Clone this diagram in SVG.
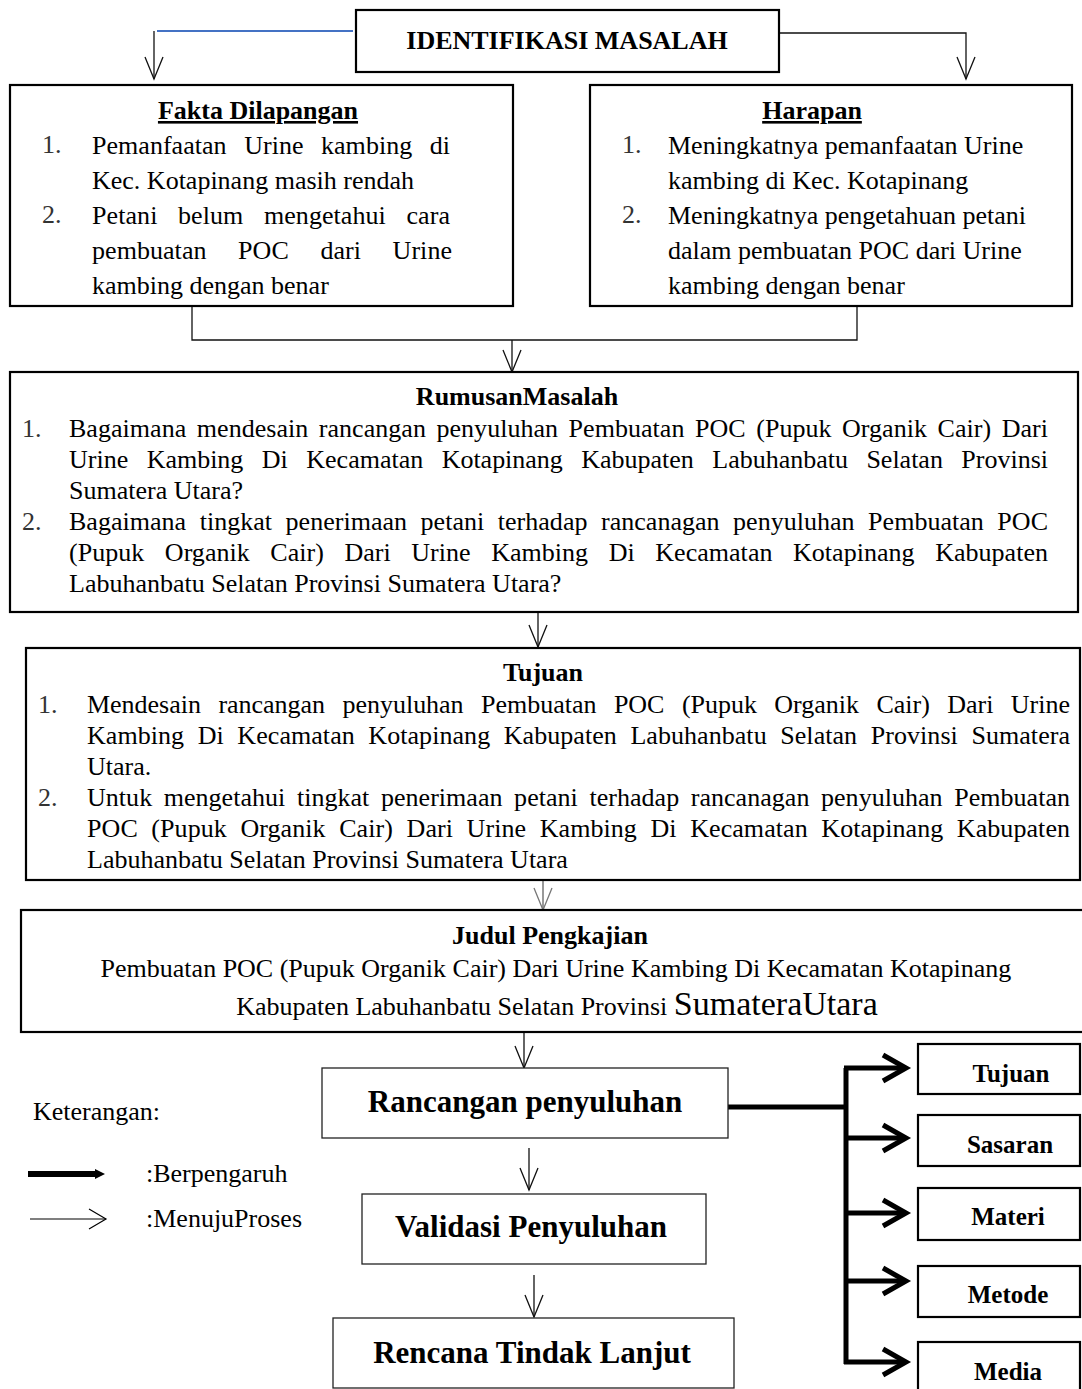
<svg xmlns="http://www.w3.org/2000/svg" width="1082" height="1389" viewBox="0 0 1082 1389">
<style>
  text { font-family: "Liberation Serif", "Times New Roman", serif; fill: #000; }
  .t { font-size: 26px; }
  .b { font-size: 26px; font-weight: bold; }
  .big { font-size: 31px; font-weight: bold; }
  .sm { font-size: 25px; font-weight: bold; }
  .num { font-size: 26px; fill: #333; }
  .box { fill: #fff; stroke: #000; stroke-width: 2.2; }
  .thin { fill: #fff; stroke: #222; stroke-width: 1.3; }
  .ln { fill: none; stroke: #111; stroke-width: 1.3; }
  .thick { fill: none; stroke: #000; stroke-width: 5; }
</style>
<defs>
  <marker id="v" markerUnits="userSpaceOnUse" markerWidth="26" markerHeight="22" refX="22" refY="9" orient="auto" overflow="visible">
    <path d="M0,0 L22,9 L0,18" fill="none" stroke="#111" stroke-width="1.3"/>
  </marker>
  <marker id="vg" markerUnits="userSpaceOnUse" markerWidth="26" markerHeight="22" refX="22" refY="9" orient="auto" overflow="visible">
    <path d="M0,0 L22,9 L0,18" fill="none" stroke="#777" stroke-width="1.3"/>
  </marker>
  <marker id="tv" markerUnits="userSpaceOnUse" markerWidth="30" markerHeight="30" refX="23" refY="13" orient="auto" overflow="visible">
    <path d="M0,0 L23,13 L0,26" fill="none" stroke="#000" stroke-width="5"/>
  </marker>
</defs>

<g id="connectors">
  <line x1="157" y1="31" x2="353" y2="31" stroke="#4472C4" stroke-width="2"/>
  <line class="ln" x1="154" y1="31" x2="154" y2="79" marker-end="url(#v)"/>
  <polyline class="ln" points="779,33 966,33 966,79" marker-end="url(#v)"/>
  <polyline class="ln" points="192,307 192,340 857,340 857,307"/>
  <line class="ln" x1="512" y1="340" x2="512" y2="372" marker-end="url(#v)"/>
  <line class="ln" x1="538" y1="613" x2="538" y2="647" marker-end="url(#v)"/>
  <line x1="543" y1="866" x2="543" y2="910" stroke="#777" stroke-width="1.5" marker-end="url(#vg)"/>
  <line class="ln" x1="524" y1="1033" x2="524" y2="1068" marker-end="url(#v)"/>
  <line class="ln" x1="529" y1="1148" x2="529" y2="1190" marker-end="url(#v)"/>
  <line class="ln" x1="534" y1="1275" x2="534" y2="1317" marker-end="url(#v)"/>
  <line class="thick" x1="728" y1="1107" x2="848" y2="1107"/>
  <line class="thick" x1="846" y1="1068" x2="846" y2="1364"/>
  <line class="thick" x1="844" y1="1068" x2="906" y2="1068" marker-end="url(#tv)"/>
  <line class="thick" x1="846" y1="1138" x2="906" y2="1138" marker-end="url(#tv)"/>
  <line class="thick" x1="846" y1="1213" x2="906" y2="1213" marker-end="url(#tv)"/>
  <line class="thick" x1="846" y1="1281" x2="906" y2="1281" marker-end="url(#tv)"/>
  <line class="thick" x1="844" y1="1362" x2="906" y2="1362" marker-end="url(#tv)"/>
</g>

<g id="identifikasi">
  <rect class="box" x="356" y="10" width="423" height="62"/>
  <text class="b" x="567" y="49" text-anchor="middle">IDENTIFIKASI MASALAH</text>
</g>

<g id="fakta">
  <rect class="box" x="10" y="85" width="503" height="221"/>
  <text class="b" x="258" y="119" text-anchor="middle" text-decoration="underline">Fakta Dilapangan</text>
  <text class="num" x="42" y="153">1.</text>
  <text class="t" x="92" y="154" word-spacing="11" textLength="358" lengthAdjust="spacing">Pemanfaatan Urine kambing di</text>
  <text class="t" x="92" y="189">Kec. Kotapinang masih rendah</text>
  <text class="num" x="42" y="223">2.</text>
  <text class="t" x="92" y="224" word-spacing="14" textLength="358" lengthAdjust="spacing">Petani belum mengetahui cara</text>
  <text class="t" x="92" y="259" word-spacing="25" textLength="360" lengthAdjust="spacing">pembuatan POC dari Urine</text>
  <text class="t" x="92" y="294">kambing dengan benar</text>
</g>

<g id="harapan">
  <rect class="box" x="590" y="85" width="482" height="221"/>
  <text class="b" x="812" y="119" text-anchor="middle" text-decoration="underline">Harapan</text>
  <text class="num" x="622" y="153">1.</text>
  <text class="t" x="668" y="154">Meningkatnya pemanfaatan Urine</text>
  <text class="t" x="668" y="189">kambing di Kec. Kotapinang</text>
  <text class="num" x="622" y="223">2.</text>
  <text class="t" x="668" y="224">Meningkatnya pengetahuan petani</text>
  <text class="t" x="668" y="259">dalam pembuatan POC dari Urine</text>
  <text class="t" x="668" y="294">kambing dengan benar</text>
</g>

<g id="rumusan">
  <rect class="box" x="10" y="372" width="1068" height="240"/>
  <text class="b" x="517" y="405" text-anchor="middle">RumusanMasalah</text>
  <text class="num" x="22" y="437">1.</text>
  <text class="t" x="69" y="437" word-spacing="4" textLength="979" lengthAdjust="spacing">Bagaimana mendesain rancangan penyuluhan Pembuatan POC (Pupuk Organik Cair) Dari</text>
  <text class="t" x="69" y="468" word-spacing="12" textLength="979" lengthAdjust="spacing">Urine Kambing Di Kecamatan Kotapinang Kabupaten Labuhanbatu Selatan Provinsi</text>
  <text class="t" x="69" y="499">Sumatera Utara?</text>
  <text class="num" x="22" y="530">2.</text>
  <text class="t" x="69" y="530" word-spacing="7" textLength="979" lengthAdjust="spacing">Bagaimana tingkat penerimaan petani terhadap rancanagan penyuluhan Pembuatan POC</text>
  <text class="t" x="69" y="561" word-spacing="14" textLength="979" lengthAdjust="spacing">(Pupuk Organik Cair) Dari Urine Kambing Di Kecamatan Kotapinang Kabupaten</text>
  <text class="t" x="69" y="592">Labuhanbatu Selatan Provinsi Sumatera Utara?</text>
</g>

<g id="tujuan">
  <rect class="box" x="26" y="648" width="1054" height="232"/>
  <text class="b" x="543" y="681" text-anchor="middle">Tujuan</text>
  <text class="num" x="38" y="713">1.</text>
  <text class="t" x="87" y="713" word-spacing="11" textLength="983" lengthAdjust="spacing">Mendesain rancangan penyuluhan Pembuatan POC (Pupuk Organik Cair) Dari Urine</text>
  <text class="t" x="87" y="744" word-spacing="7" textLength="983" lengthAdjust="spacing">Kambing Di Kecamatan Kotapinang Kabupaten Labuhanbatu Selatan Provinsi Sumatera</text>
  <text class="t" x="87" y="775">Utara.</text>
  <text class="num" x="38" y="806">2.</text>
  <text class="t" x="87" y="806" word-spacing="5" textLength="983" lengthAdjust="spacing">Untuk mengetahui tingkat penerimaan petani terhadap rancanagan penyuluhan Pembuatan</text>
  <text class="t" x="87" y="837" word-spacing="7" textLength="983" lengthAdjust="spacing">POC (Pupuk Organik Cair) Dari Urine Kambing Di Kecamatan Kotapinang Kabupaten</text>
  <text class="t" x="87" y="868">Labuhanbatu Selatan Provinsi Sumatera Utara</text>
</g>

<g id="judul">
  <rect class="box" x="21" y="910" width="1063" height="122"/>
  <text class="b" x="550" y="944" text-anchor="middle">Judul Pengkajian</text>
  <text class="t" x="556" y="977" text-anchor="middle">Pembuatan POC (Pupuk Organik Cair) Dari Urine Kambing Di Kecamatan Kotapinang</text>
  <text class="t" x="557" y="1015" text-anchor="middle">Kabupaten Labuhanbatu Selatan Provinsi <tspan font-size="34">SumateraUtara</tspan></text>
</g>

<g id="keterangan">
  <text class="t" x="33" y="1120">Keterangan:</text>
  <line x1="28" y1="1174" x2="98" y2="1174" stroke="#000" stroke-width="6"/>
  <polygon points="95,1169 105,1174 95,1179" fill="#000"/>
  <text class="t" x="146" y="1182">:Berpengaruh</text>
  <line x1="30" y1="1219" x2="106" y2="1219" stroke="#000" stroke-width="1.2"/>
  <polyline points="89,1209 106,1219 89,1229" fill="none" stroke="#000" stroke-width="1.2"/>
  <text class="t" x="146" y="1227">:MenujuProses</text>
</g>

<g id="rancangan">
  <rect class="thin" x="322" y="1068" width="406" height="70"/>
  <text class="big" x="525" y="1112" text-anchor="middle">Rancangan penyuluhan</text>
</g>
<g id="validasi">
  <rect class="thin" x="362" y="1194" width="344" height="70"/>
  <text class="big" x="531" y="1237" text-anchor="middle">Validasi Penyuluhan</text>
</g>
<g id="rencana">
  <rect class="thin" x="333" y="1318" width="401" height="70"/>
  <text class="big" x="532" y="1363" text-anchor="middle">Rencana Tindak Lanjut</text>
</g>

<g id="r-tujuan">
  <rect class="box" x="918" y="1044" width="162" height="50"/>
  <text class="sm" x="1011" y="1082" text-anchor="middle">Tujuan</text>
</g>
<g id="r-sasaran">
  <rect class="box" x="918" y="1115" width="162" height="51"/>
  <text class="sm" x="1010" y="1153" text-anchor="middle">Sasaran</text>
</g>
<g id="r-materi">
  <rect class="box" x="918" y="1188" width="162" height="52"/>
  <text class="sm" x="1008" y="1225" text-anchor="middle">Materi</text>
</g>
<g id="r-metode">
  <rect class="box" x="918" y="1266" width="162" height="51"/>
  <text class="sm" x="1008" y="1303" text-anchor="middle">Metode</text>
</g>
<g id="r-media">
  <rect class="box" x="918" y="1342" width="162" height="60"/>
  <text class="sm" x="1008" y="1380" text-anchor="middle">Media</text>
</g>
</svg>
